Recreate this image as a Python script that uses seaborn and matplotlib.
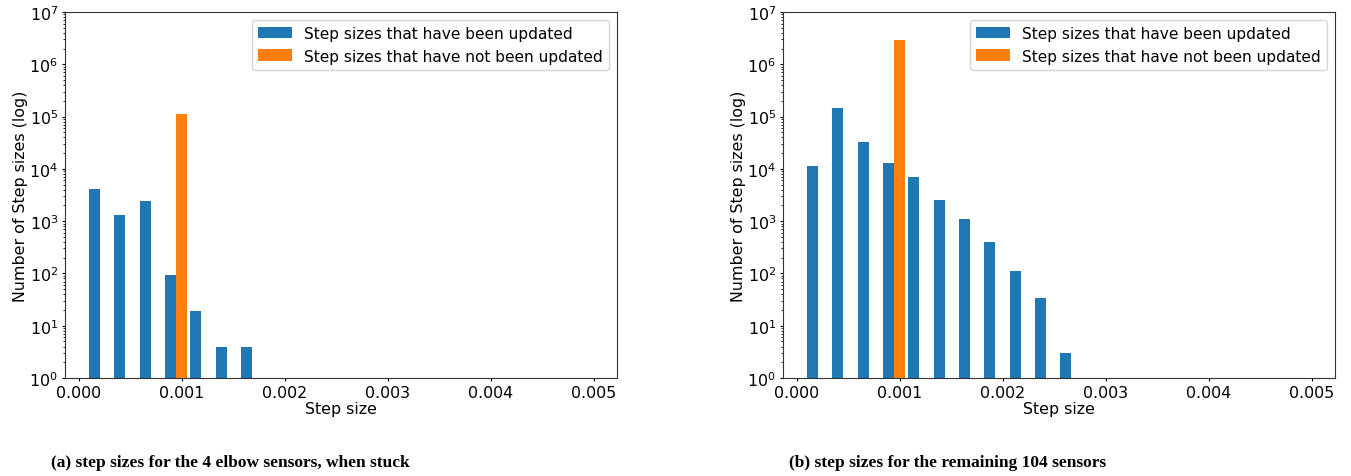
import numpy as np
import pandas as pd
import matplotlib
matplotlib.use("Agg")
import matplotlib.pyplot as plt
from matplotlib.patches import Patch
import seaborn as sns

# ---- data ----
# histogram bin edges (20 bins) of step sizes
bin_edges = np.linspace(0.00008, 0.005, 21)
bin_centers = (bin_edges[:-1] + bin_edges[1:]) / 2

labels = ["Step sizes that have been updated", "Step sizes that have not been updated"]

# panel (a): 4 elbow sensors, when stuck  (counts per bin)
a_updated = [4100, 1300, 2400, 93, 19, 4, 4]
a_not_updated_bin = 3
a_not_updated = 112000

# panel (b): remaining 104 sensors
b_updated = [11300, 146000, 32600, 12900, 6900, 2500, 1100, 400, 111, 34, 3]
b_not_updated_bin = 3
b_not_updated = 2900000

captions = ["(a) step sizes for the 4 elbow sensors, when stuck",
            "(b) step sizes for the remaining 104 sensors"]

colors = ["#1f77b4", "#ff7f0e"]


def make_df(updated, nb_bin, nb_val):
    rows = []
    for i, v in enumerate(updated):
        rows.append((bin_centers[i], v, labels[0]))
    rows.append((bin_centers[nb_bin], nb_val, labels[1]))
    return pd.DataFrame(rows, columns=["step", "count", "kind"])


dfs = [make_df(a_updated, a_not_updated_bin, a_not_updated),
       make_df(b_updated, b_not_updated_bin, b_not_updated)]

W, H = 1351, 477
fig = plt.figure(figsize=(W / 100, H / 100), dpi=100)
plt.rcParams["font.family"] = ["DejaVu Sans"]

FS = 11.4
lefts = [65, 783]
for k, df in enumerate(dfs):
    ax = fig.add_axes([lefts[k] / W, (H - 379) / H, 552 / W, 366 / H])
    sns.barplot(data=df, x="step", y="count", hue="kind", hue_order=labels,
                palette=colors, native_scale=True, saturation=1, errorbar=None,
                width=0.86, legend=False, ax=ax, linewidth=0)
    ax.set_yscale("log")
    ax.set_ylim(1, 1e7)
    ax.set_xlim(-0.000136, 0.005223)
    ax.set_xticks([0, 0.001, 0.002, 0.003, 0.004, 0.005])
    ax.set_xticklabels(["0.000", "0.001", "0.002", "0.003", "0.004", "0.005"])
    ax.tick_params(labelsize=FS, which="major", length=2.5, pad=2.5, width=0.8)
    ax.tick_params(which="minor", length=1.5, width=0.6)
    for s in ax.spines.values():
        s.set_color("#333333")
    ax.set_xlabel("Step size", fontsize=FS, labelpad=1)
    ax.set_ylabel("Number of Step sizes (log)", fontsize=FS, labelpad=1)
    handles = [Patch(facecolor=c, label=l) for c, l in zip(colors, labels)]
    ax.legend(handles=handles, loc="upper right", fontsize=11.1,
              handlelength=2.2, handleheight=0.8, borderaxespad=0.5)
    fig.text((lefts[k] + 165) / W, (H - 463) / H, captions[k],
             ha="center", va="center", fontsize=12.5, fontweight="bold",
             family=["Liberation Serif"])

fig.savefig("out.png", dpi=100)
